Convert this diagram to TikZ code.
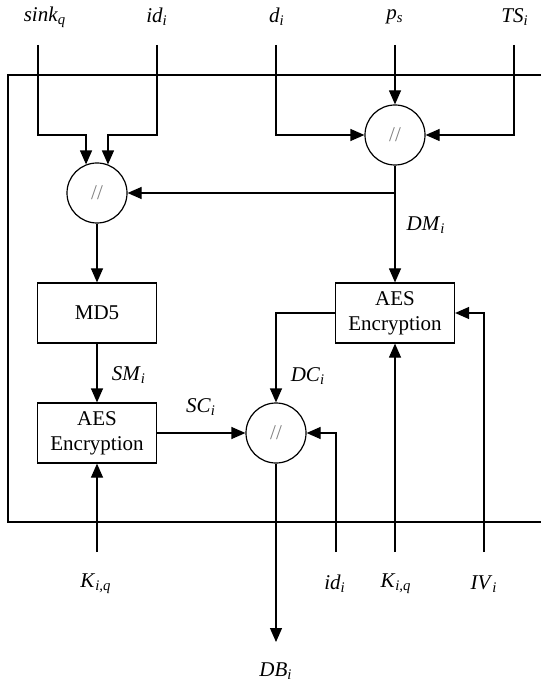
\documentclass[tikz,border=0pt]{standalone}
\usepackage{fontspec}
\setmainfont{Liberation Serif}
\usepackage{xcolor}
\usepackage{tikz}
\usetikzlibrary{arrows.meta}
\newcommand{\sym}[2]{\textit{#1}\textsubscript{\textit{#2}}}

\begin{document}
\begin{tikzpicture}[x=0.5pt, y=-0.5pt, >={Triangle[length=7pt,width=6pt]},
    font=\fontsize{10.5}{12.5}\selectfont, line width=0.6pt,
    blk/.style={draw, minimum width=59.5pt, minimum height=30pt, align=center, inner sep=0pt},
    cat/.style={draw, circle, minimum size=30pt, inner sep=0pt, text=gray},
    lbl/.style={inner sep=1pt}]
    \useasboundingbox (0,0) rectangle (541,683);
    \draw (541,75) -- (8,75) -- (8,522) -- (541,522);
    \node[cat] (catL) at (97,193) {//};
    \node[cat] (catR) at (395,135) {//};
    \node[cat] (catB) at (276,433) {//};
    \node[blk] (md5) at (97,313) {MD5};
    \node[blk] (aesL) at (97,433) {AES\\Encryption};
    \node[blk] (aesR) at (395,313) {AES\\Encryption};
    \node[lbl] (sinkq) at (45,17) {\sym{sink}{q}};
    \node[lbl] (idtop) at (157,17) {\sym{id}{i}};
    \node[lbl] (di) at (277,17) {\sym{d}{i}};
    \node[lbl] (ps) at (395,17) {\sym{p}{s}};
    \node[lbl] (tsi) at (515,17) {\sym{TS}{i}};
    \node[lbl] (kleft) at (96,584) {\sym{K}{i,q}};
    \node[lbl] (idbot) at (335,584) {\sym{id}{i}};
    \node[lbl] (kright) at (396,584) {\sym{K}{i,q}};
    \node[lbl] (ivi) at (484,584) {\sym{IV}{i}};
    \node[lbl] (dbi) at (276,671) {\sym{DB}{i}};
    \node[lbl] (dmi) at (426,225) {\sym{DM}{i}};
    \node[lbl] (smi) at (129,375) {\sym{SM}{i}};
    \node[lbl] (sci) at (201,407) {\sym{SC}{i}};
    \node[lbl] (dci) at (308,376) {\sym{DC}{i}};
    \coordinate (sinkT) at (38,45);
    \coordinate (idT) at (157,45);
    \coordinate (dT) at (276,45);
    \coordinate (pT) at (395,45);
    \coordinate (tsT) at (514,45);
    \coordinate (kLB) at (97,552);
    \coordinate (idB) at (336,552);
    \coordinate (kRB) at (395,552);
    \coordinate (ivB) at (484,552);
    \coordinate (dbB) at (276,642);
    \coordinate (split) at (catR |- catL);
    \draw[->] (sinkT) |- (catL.111 |- catR) -- (catL.111);
    \draw[->] (idT) |- (catL.69 |- catR) -- (catL.69);
    \draw[->] (dT) |- (catR);
    \draw[->] (tsT) |- (catR);
    \draw[->] (pT) -- (catR);
    \draw[->] (catR) -- (aesR);
    \draw[->] (split) -- (catL);
    \draw[->] (catL) -- (md5);
    \draw[->] (md5) -- (aesL);
    \draw[->] (aesL) -- (catB);
    \draw[->] (aesR.west) -| (catB);
    \draw[->] (idB) |- (catB);
    \draw[->] (kRB) -- (aesR);
    \draw[->] (ivB) |- (aesR);
    \draw[->] (kLB) -- (aesL);
    \draw[->] (catB) -- (dbB);
\end{tikzpicture}
\end{document}
